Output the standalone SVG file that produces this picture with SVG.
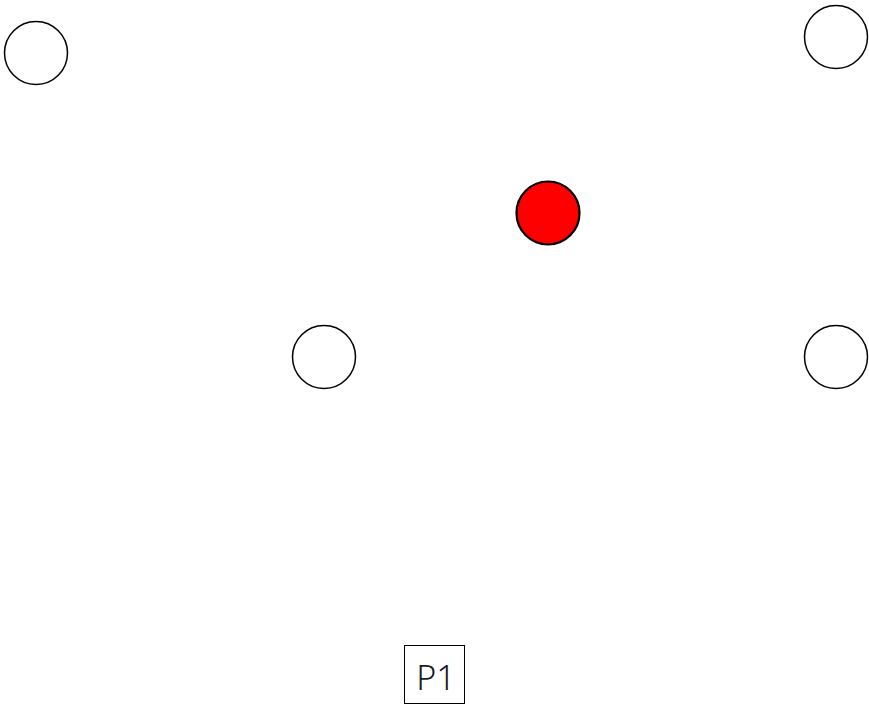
<svg xmlns="http://www.w3.org/2000/svg" width="869" height="704" viewBox="0 0 869 704">
<style>
.n{fill:#fff;stroke:#000;stroke-width:1.5}
.r{fill:#f00;stroke:#000;stroke-width:2.2}
.b{fill:#fff;stroke:#000;stroke-width:1}
.t{font-family:"Noto Sans","Open Sans",sans-serif;font-size:34px;font-weight:300;fill:#1a1a1a}
</style>
<rect width="869" height="704" fill="#fff"/>
<g id="connectors"></g>
<g id="n1"><circle class="n" cx="36" cy="53" r="31.5"/></g>
<g id="n2"><circle class="n" cx="836" cy="37" r="31.5"/></g>
<g id="n3"><circle class="r" cx="548" cy="213" r="31.5"/></g>
<g id="n4"><circle class="n" cx="324" cy="357" r="31.5"/></g>
<g id="n5"><circle class="n" cx="836" cy="357" r="31.5"/></g>
<g id="p1"><rect class="b" x="404.5" y="645.5" width="60" height="58"/><text class="t" x="436" y="689.5" text-anchor="middle">P1</text></g>
</svg>
